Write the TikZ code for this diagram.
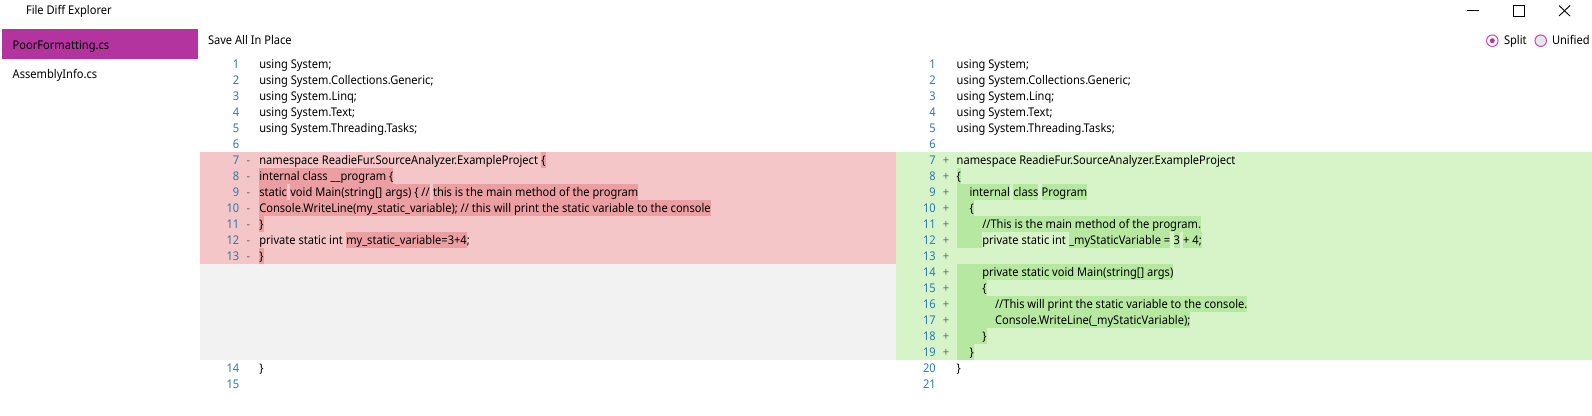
\documentclass[tikz,border=0pt]{standalone}
\usepackage{fontspec}
\setmainfont{Noto Sans}[FakeStretch=0.925]
\definecolor{sel}{HTML}{B3349F}
\definecolor{delbg}{HTML}{F4C6C8}
\definecolor{delhl}{HTML}{EC9FA3}
\definecolor{addbg}{HTML}{D7F4C9}
\definecolor{addhl}{HTML}{B7E8A1}
\definecolor{gapbg}{HTML}{F2F2F2}
\definecolor{numcol}{HTML}{2B7BAF}
\definecolor{markcol}{HTML}{6A6A6A}
\definecolor{radiomag}{HTML}{C247B5}
\definecolor{radiogray}{HTML}{E6E6E6}
\newcommand\cf{\fontsize{12pt}{16pt}\selectfont}
\newlength\spw
\setlength\spw{3.3pt}
\tikzset{
  code/.style={font=\cf, inner sep=0pt, outer sep=0pt, text height=12.2pt, text depth=3.8pt, anchor=base west},
  hlr/.style={code, fill=delhl},
  hlg/.style={code, fill=addhl},
  ui/.style={font=\cf, inner sep=0pt, outer sep=0pt, anchor=base west},
  num/.style={font=\cf, text=numcol, inner sep=0pt, anchor=base east},
  dmark/.style={font=\cf, text=markcol, inner sep=0pt, anchor=base},
  radio/.style={circle, draw=radiomag, line width=1pt, minimum size=11.5pt, inner sep=0pt},
  winline/.style={draw=black, line width=0.9pt}
}
\begin{document}
\begin{tikzpicture}[x=1pt,y=-1pt]
\useasboundingbox[fill=white] (0,0) rectangle (1592,415);
% backgrounds
\fill[delbg] (200,152) rectangle (896,264);
\fill[gapbg] (200,264) rectangle (896,359.5);
\fill[addbg] (896,152) rectangle (1592,360);
\fill[sel] (2.3,29) rectangle (198,59);
% title bar
\node[ui] (title) at (26,14.2) {File Diff Explorer};
\draw[winline] (1467,10.5) -- (1479,10.5);
\draw[winline] (1513,5.5) rectangle (1524,16);
\draw[winline] (1559,5.5) -- (1570,16);
\draw[winline] (1559,16) -- (1570,5.5);
% sidebar
\node[ui] (f1) at (12.7,49.9) {PoorFormatting.cs};
\node[ui] (f2) at (12.7,78.2) {AssemblyInfo.cs};
% toolbar
\node[ui] (save) at (208,44.9) {Save All In Place};
\node[radio, fill=white] (rs) at (1492.3,40.7) {};
\node[circle, fill=sel, minimum size=5pt, inner sep=0pt] (rsdot) at (rs) {};
\node[ui] (split) at (1504,44.9) {Split};
\node[radio, fill=radiogray] (ru) at (1540.7,40.7) {};
\node[ui] (unified) at (1552,44.9) {Unified};
% line numbers
\foreach \n in {1,...,13} \node[num] (ln\n) at (239.5,{52.2+16*\n}) {\n};
\node[num] (ln14) at (239.5,372.2) {14};
\node[num] (ln15) at (239.5,388.2) {15};
\foreach \n in {1,...,21} \node[num] (rn\n) at (936,{52.2+16*\n}) {\n};
\foreach \n in {7,...,13} \node[dmark] (lm\n) at (248.3,{52.2+16*\n}) {-};
\foreach \n in {7,...,19} \node[dmark] (rm\n) at (946,{52.2+16*\n}) {+};
% left code
\node[code] (l1) at (259.3,68.2) {using System;};
\node[code] (l2) at (259.3,84.2) {using System.Collections.Generic;};
\node[code] (l3) at (259.3,100.2) {using System.Linq;};
\node[code] (l4) at (259.3,116.2) {using System.Text;};
\node[code] (l5) at (259.3,132.2) {using System.Threading.Tasks;};
\node[code] (l7a) at (259.3,164.2) {namespace ReadieFur.SourceAnalyzer.ExampleProject};
\node[hlr] (l7b) at ([xshift=\spw]l7a.base east) {\{};
\node[hlr] (l8) at (259.3,180.2) {internal class \_\_program \{};
\node[hlr] (l9a) at (259.3,196.2) {static};
\node[hlr] (l9b) at ([xshift=\spw]l9a.base east) {void Main(string[] args) \{ //};
\node[hlr] (l9c) at ([xshift=\spw]l9b.base east) {this is the main method of the program};
\node[hlr] (l10) at (259.3,212.2) {Console.WriteLine(my\_static\_variable); // this will print the static variable to the console};
\node[hlr] (l11) at (259.3,228.2) {\}};
\node[code] (l12a) at (259.3,244.2) {private static int};
\node[hlr] (l12b) at ([xshift=\spw]l12a.base east) {my\_static\_variable=3+4};
\node[code] (l12c) at (l12b.base east) {;};
\node[hlr] (l13) at (259.3,260.2) {\}};
\node[code] (l14) at (259.3,372.2) {\}};
% right code
\node[code] (r1) at (956.7,68.2) {using System;};
\node[code] (r2) at (956.7,84.2) {using System.Collections.Generic;};
\node[code] (r3) at (956.7,100.2) {using System.Linq;};
\node[code] (r4) at (956.7,116.2) {using System.Text;};
\node[code] (r5) at (956.7,132.2) {using System.Threading.Tasks;};
\node[code] (r7) at (956.7,164.2) {namespace ReadieFur.SourceAnalyzer.ExampleProject};
\node[hlg] (r8) at (956.7,180.2) {\{};
\node[hlg] (r9a) at (956.7,196.2) {\hspace*{12.8pt}internal};
\node[hlg] (r9b) at ([xshift=\spw]r9a.base east) {class};
\node[hlg] (r9c) at ([xshift=\spw]r9b.base east) {Program};
\node[hlg] (r10) at (956.7,212.2) {\hspace*{12.8pt}\{};
\node[hlg] (r11) at (956.7,228.2) {\hspace*{25.6pt}//This is the main method of the program.};
\node[hlg] (r12a) at (956.7,244.2) {\hspace*{25.6pt}};
\node[code] (r12b) at (r12a.base east) {private static int};
\node[hlg] (r12c) at ([xshift=\spw]r12b.base east) {\_myStaticVariable =};
\node[hlg] (r12d) at ([xshift=\spw]r12c.base east) {3};
\node[hlg] (r12e) at ([xshift=\spw]r12d.base east) {+ 4;};
\node[hlg] (r14) at (956.7,276.2) {\hspace*{25.6pt}private static void Main(string[] args)};
\node[hlg] (r15) at (956.7,292.2) {\hspace*{25.6pt}\{};
\node[hlg] (r16) at (956.7,308.2) {\hspace*{38.4pt}//This will print the static variable to the console.};
\node[hlg] (r17) at (956.7,324.2) {\hspace*{38.4pt}Console.WriteLine(\_myStaticVariable);};
\node[hlg] (r18) at (956.7,340.2) {\hspace*{25.6pt}\}};
\node[hlg] (r19) at (956.7,356.2) {\hspace*{12.8pt}\}};
\node[code] (r20) at (956.7,372.2) {\}};
\end{tikzpicture}
\end{document}
